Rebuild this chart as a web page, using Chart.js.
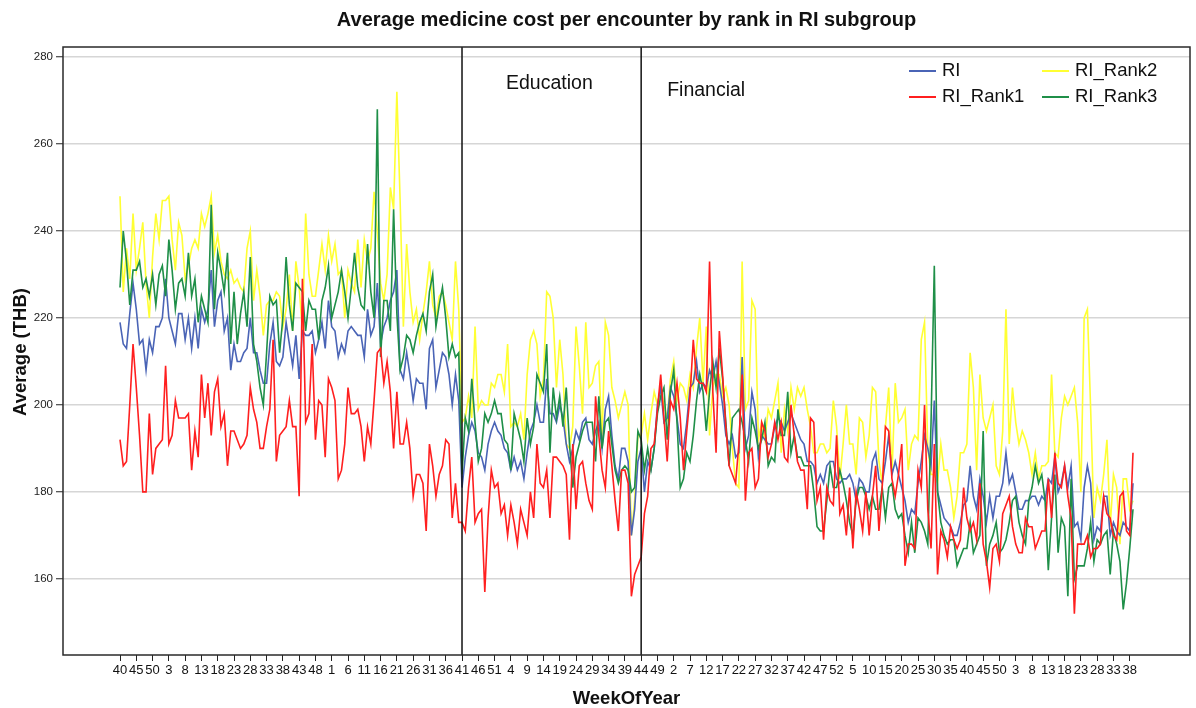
<!DOCTYPE html>
<html><head><meta charset="utf-8">
<script src="https://cdn.jsdelivr.net/npm/chart.js@4.4.1/dist/chart.umd.min.js"></script>
<style>html,body{margin:0;padding:0;background:#fff;}#wrap{width:1196px;height:708px;}</style>
</head><body><div id="wrap"><canvas id="c" width="1196" height="708"></canvas></div>
<script>
// ---- data ----
const chartTitle = 'Average medicine cost per encounter by rank in RI subgroup';
const xTitle = 'WeekOfYear';
const yTitle = 'Average (THB)';
const seriesNames = ['RI', 'RI_Rank1', 'RI_Rank2', 'RI_Rank3'];
// week-of-year tick labels, one every 5 weeks starting at week 40
const tickLabels = ['40','45','50','3','8','13','18','23','28','33','38','43','48','1','6','11','16','21','26','31','36','41','46','51','4','9','14','19','24','29','34','39','44','49','2','7','12','17','22','27','32','37','42','47','52','5','10','15','20','25','30','35','40','45','50','3','8','13','18','23','28','33','38'];
const yTicks = [160, 180, 200, 220, 240, 260, 280];
const eventLines = [{ at: 105, label: 'Education' }, { at: 160, label: 'Financial' }];

const ri = [
219,214,213,221,228,222,214,215,208,215,212,218,218,220,229,220,217,214,221,221,215,220,213,220,213,222,219,222,231,218,224,226,217,220,208,214,210,210,212,213,220,212,212,208,205,
205,214,219,210,209,211,219,214,209,216,206,217,216,216,217,212,215,219,213,224,218,217,211,214,212,217,218,217,216,216,211,222,216,218,228,214,218,220,224,226,231,208,206,212,207,
201,206,205,205,199,213,215,204,208,212,211,207,200,207,201,181,188,193,196,194,189,188,185,191,194,196,194,193,190,189,185,188,185,187,183,189,194,196,200,196,196,206,198,198,196,200,197,
191,187,190,194,192,196,197,192,191,194,196,190,199,202,193,186,183,190,190,187,170,176,187,190,180,187,185,190,200,204,196,197,204,202,197,191,190,196,204,205,210,203,205,204,208,206,
210,205,200,193,191,193,188,189,211,190,193,203,199,188,193,192,191,191,195,197,196,194,196,198,196,194,192,191,187,187,186,182,184,182,186,187,187,183,182,183,183,184,182,178,183,182,
180,180,187,189,183,182,187,193,184,187,184,181,178,173,176,175,182,187,193,190,186,201,180,177,174,173,172,170,170,173,177,178,186,179,176,183,179,173,179,174,179,179,182,189,182,184,
180,176,176,178,178,179,179,177,179,178,183,182,188,180,182,186,181,186,172,173,169,181,186,182,169,172,171,179,179,170,173,171,170,173,172,171,182];

const riRank1 = [
192,186,187,200,214,204,193,180,180,198,184,190,191,192,209,191,193,201,197,197,197,198,185,194,188,207,197,205,193,203,206,195,198,186,194,194,192,190,191,193,204,199,196,190,190,
195,199,215,187,193,194,195,201,195,195,179,229,196,198,214,192,201,200,188,206,204,201,183,185,191,204,198,198,199,195,187,195,191,201,212,213,205,210,203,190,203,191,191,196,190,
179,184,184,182,171,191,186,179,184,186,192,191,174,182,173,173,171,181,188,173,175,176,157,174,185,181,182,175,177,170,177,173,168,176,173,170,180,174,191,182,181,185,174,188,188,187,186,
184,169,191,176,186,187,182,178,176,202,193,185,181,194,186,178,171,185,185,182,156,161,163,165,175,179,190,191,199,207,197,187,201,199,205,197,185,194,202,215,206,205,205,203,233,203,
189,217,207,195,186,184,182,191,207,178,189,190,181,183,196,194,188,191,196,192,196,188,187,200,193,187,185,185,176,197,196,178,181,169,181,178,177,193,175,177,170,181,167,180,176,171,
180,170,179,186,171,181,195,194,183,179,184,191,163,168,168,167,185,181,200,176,167,191,161,171,169,165,172,169,167,169,181,174,171,173,169,182,168,164,158,167,168,164,175,177,179,172,
168,166,166,174,172,172,167,169,171,171,183,174,189,182,181,186,179,174,152,168,168,168,170,165,167,167,168,179,175,174,170,169,179,180,171,170,189];

const riRank2 = [
248,226,236,229,244,231,236,242,228,220,234,244,238,247,247,248,238,231,242,239,229,232,236,238,236,244,241,244,248,235,239,233,230,229,231,228,229,227,226,236,240,224,231,225,216,
223,224,224,226,225,218,222,230,217,233,227,217,244,230,225,225,231,237,231,239,233,237,230,231,220,231,228,226,238,227,238,233,236,249,240,228,224,230,250,245,272,247,218,237,226,
219,222,215,221,226,233,223,220,225,226,223,219,215,233,222,196,197,202,197,218,199,201,200,200,205,204,207,207,203,214,195,196,195,198,192,207,215,217,214,202,206,226,225,220,204,215,207,
191,190,195,218,209,198,219,204,205,209,210,192,219,216,204,201,197,200,203,200,170,178,193,193,198,192,198,203,200,204,200,197,206,210,201,205,204,201,207,204,213,220,205,218,193,204,
207,207,202,204,200,190,182,181,233,199,201,224,222,192,196,192,199,197,201,205,189,199,194,204,199,204,202,204,199,195,189,189,191,191,189,190,201,195,183,191,200,191,191,184,197,196,
188,193,204,203,187,182,195,204,184,205,196,197,199,185,191,193,192,215,219,190,184,184,182,191,185,185,181,174,179,189,189,191,212,204,185,207,197,194,197,200,186,184,194,222,191,204,
196,191,194,192,189,184,189,183,186,186,187,207,189,188,197,202,200,202,204,196,180,220,222,199,174,181,178,184,192,172,184,181,168,183,183,176,178];

const riRank3 = [
227,240,233,223,231,231,233,227,229,225,230,223,230,232,225,238,231,222,228,229,225,235,225,229,219,225,222,219,246,222,235,231,226,235,214,226,214,221,226,218,234,214,210,204,200,
212,225,223,224,212,220,234,223,217,228,227,226,217,224,222,222,215,224,227,232,220,223,226,231,226,220,227,235,227,223,222,237,226,220,268,211,224,224,217,245,221,208,211,216,215,
212,216,219,221,217,226,230,218,223,227,220,211,214,211,212,184,197,194,206,196,187,190,198,196,198,201,198,198,192,191,185,198,195,192,187,197,191,195,207,205,203,214,189,204,197,202,195,
204,191,181,188,191,194,196,196,196,187,202,190,196,197,191,185,182,185,186,185,180,181,194,192,185,190,185,190,198,202,204,192,203,208,196,181,183,189,187,193,201,207,203,194,203,210,
204,213,206,196,186,197,198,199,196,192,187,197,194,190,192,196,186,188,187,199,193,193,203,189,193,188,188,186,186,186,180,172,171,171,178,186,181,181,185,182,178,173,170,178,181,181,
179,176,179,176,176,181,174,181,182,176,174,175,170,166,173,166,174,173,171,168,196,232,180,173,170,168,169,169,163,165,167,167,173,166,168,170,194,163,168,170,173,166,167,169,173,178,
179,173,170,168,178,181,186,182,184,178,162,174,184,166,174,172,156,183,160,163,163,163,167,173,164,169,168,170,171,161,171,168,164,153,159,167,176];

// ---- styling ----
const colors = { 'RI': '#4a64b6', 'RI_Rank1': '#ff1f1f', 'RI_Rank2': '#ffff33', 'RI_Rank3': '#1f8f48' };
const FONT = '"Liberation Sans", Arial, sans-serif';
const seriesData = { 'RI': ri, 'RI_Rank1': riRank1, 'RI_Rank2': riRank2, 'RI_Rank3': riRank3 };
const drawOrder = { 'RI_Rank1': 0, 'RI_Rank3': 1, 'RI': 2, 'RI_Rank2': 3 };
const xIndex = ri.map((_, i) => i);

const legendLayout = [
  { name: 'RI', x: 909, y: 71 }, { name: 'RI_Rank2', x: 1042, y: 71 },
  { name: 'RI_Rank1', x: 909, y: 97 }, { name: 'RI_Rank3', x: 1042, y: 97 }
];
const eventLabelStyle = [{ dx: 44, y: 84 }, { dx: 26, y: 91 }];

const decor = {
  id: 'decor',
  afterDatasetsDraw(chart) {
    const { ctx, chartArea: a, scales: { x } } = chart;
    ctx.save();
    ctx.strokeStyle = '#111'; ctx.lineWidth = 1.5;
    ctx.fillStyle = '#111'; ctx.font = '19.5px ' + FONT;
    ctx.textBaseline = 'middle'; ctx.textAlign = 'left';
    eventLines.forEach((ev, k) => {
      const px = x.getPixelForValue(ev.at);
      ctx.beginPath(); ctx.moveTo(px, a.top); ctx.lineTo(px, a.bottom); ctx.stroke();
      ctx.fillText(ev.label, px + eventLabelStyle[k].dx, eventLabelStyle[k].y);
    });
    ctx.font = '18.5px ' + FONT;
    legendLayout.forEach(l => {
      ctx.strokeStyle = colors[l.name]; ctx.lineWidth = 2;
      ctx.beginPath(); ctx.moveTo(l.x, l.y); ctx.lineTo(l.x + 27, l.y); ctx.stroke();
      ctx.fillStyle = '#111';
      ctx.fillText(l.name, l.x + 33, l.y);
    });
    ctx.strokeStyle = '#2a2a2a'; ctx.lineWidth = 1.5;
    ctx.strokeRect(a.left, a.top, a.right - a.left, a.bottom - a.top);
    ctx.restore();
  },
  afterDraw(chart) {
    const { ctx, chartArea: a } = chart;
    ctx.save();
    ctx.fillStyle = '#111'; ctx.textAlign = 'center'; ctx.textBaseline = 'middle';
    ctx.font = 'bold 20px ' + FONT;
    ctx.fillText(chartTitle, (a.left + a.right) / 2, 20);
    ctx.font = 'bold 18.5px ' + FONT;
    ctx.fillText(xTitle, (a.left + a.right) / 2, 699);
    ctx.translate(21, 352); ctx.rotate(-Math.PI / 2);
    ctx.fillText(yTitle, 0, 0);
    ctx.restore();
  }
};

new Chart(document.getElementById('c'), {
  type: 'line',
  data: {
    labels: xIndex,
    datasets: seriesNames.map(n => ({
      label: n, data: seriesData[n], borderColor: colors[n], backgroundColor: colors[n],
      borderWidth: 1.6, pointRadius: 0, tension: 0, fill: false, order: drawOrder[n]
    }))
  },
  options: {
    responsive: false, devicePixelRatio: 1, animation: false,
    layout: { padding: { top: 47, right: 6, left: 0, bottom: 0 } },
    plugins: { legend: { display: false }, title: { display: false }, tooltip: { enabled: false } },
    scales: {
      x: {
        type: 'linear', min: -17.5, max: 328.5,
        border: { display: false },
        grid: { drawOnChartArea: false, drawTicks: true, tickLength: 6, tickColor: '#222', tickWidth: 1 },
        afterBuildTicks: s => { s.ticks = tickLabels.map((_, k) => ({ value: k * 5 })); },
        afterFit: s => { s.height = 53; },
        ticks: { autoSkip: false, maxRotation: 0, minRotation: 0, padding: 2, color: '#111',
          font: { family: FONT, size: 13 }, callback: (v, idx) => tickLabels[idx] }
      },
      y: {
        min: 142.5, max: 282.3,
        border: { display: false },
        grid: { color: '#d6d6d6', lineWidth: 1.5, drawTicks: true, tickLength: 7, tickColor: '#222', tickWidth: 1 },
        afterBuildTicks: s => { s.ticks = yTicks.map(v => ({ value: v })); },
        afterFit: s => { s.width = 63; },
        ticks: { padding: 3, color: '#222', font: { family: FONT, size: 11.5 } }
      }
    }
  },
  plugins: [decor]
});
</script></body></html>
